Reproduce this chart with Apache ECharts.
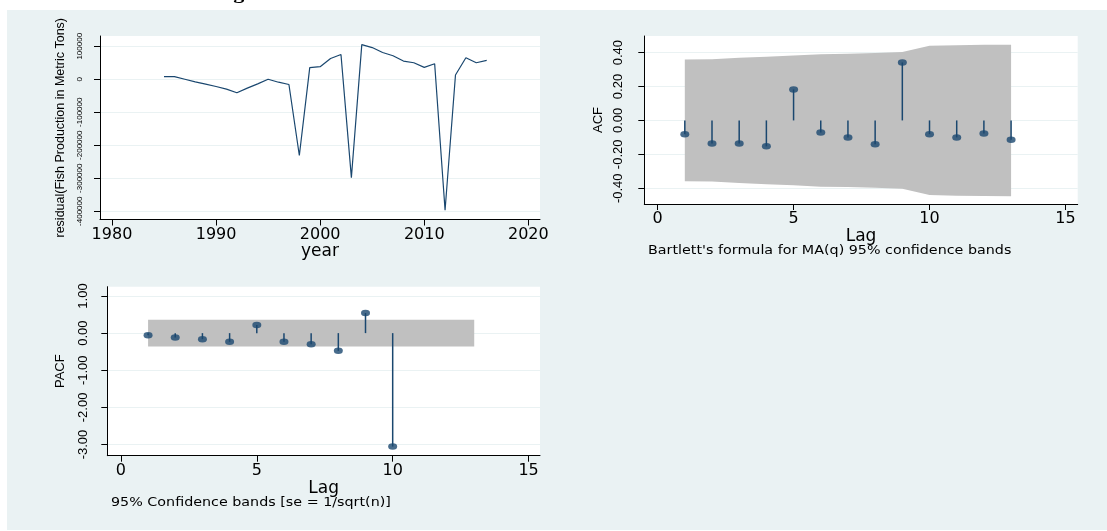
<!DOCTYPE html>
<html><head><meta charset="utf-8">
<script src="https://cdn.jsdelivr.net/npm/echarts@6/dist/echarts.min.js"></script>
<style>html,body{margin:0;padding:0;background:#fff;}#c{width:1107px;height:531px;}</style>
</head><body><div id="c"></div>
<script>
// ---- data ----
const years = [1985,1986,1987,1988,1989,1990,1991,1992,1993,1994,1995,1996,1997,1998,1999,2000,2001,2002,2003,2004,2005,2006,2007,2008,2009,2010,2011,2012,2013,2014,2015,2016];
const residuals = [8000,8000,0,-8000,-15000,-22000,-30000,-41000,-27000,-14000,0,-9000,-16000,-231000,35000,38000,63000,75000,-298000,105000,96000,81000,71000,55000,50000,36000,47000,-397000,13000,65000,50000,57000];
const yearTicks = [1980,1990,2000,2010,2020];
const residTicks = [-400000,-300000,-200000,-100000,0,100000];

const acfLags = [1,2,3,4,5,6,7,8,9,10,11,12,13];
const acfValues = [-0.081,-0.136,-0.136,-0.153,0.183,-0.071,-0.100,-0.140,0.342,-0.081,-0.100,-0.077,-0.114];
const acfBand = [0.359,0.361,0.369,0.376,0.383,0.391,0.393,0.397,0.403,0.440,0.444,0.446,0.447];
const acfTicks = [-0.4,-0.2,0,0.2,0.4];

const pacfLags = [1,2,3,4,5,6,7,8,9,10];
const pacfValues = [-0.054,-0.117,-0.162,-0.234,0.216,-0.234,-0.297,-0.477,0.541,-3.054];
const pacfBandLags = [1,13];
const pacfBand = [0.36,0.36];
const pacfTicks = [-3,-2,-1,0,1];
const lagTicks = [0,5,10,15];

const NAVY = '#1a476f';
const BAND = '#c0c0c0';

function xAx(gi, min, max, ticks, name, gap) {
  return {type:'value', gridIndex:gi, min, max, name, nameLocation:'middle', nameGap:gap,
    nameTextStyle:{fontFamily:'DejaVu Sans', fontSize:17, color:'#000'},
    axisLine:{show:true, onZero:false, lineStyle:{color:'#000', width:1}},
    axisTick:{show:true, length:6, customValues:ticks, lineStyle:{color:'#000', width:1}},
    axisLabel:{customValues:ticks, formatter:v=>String(v), fontFamily:'DejaVu Sans', fontSize:16, color:'#000', margin:7},
    splitLine:{show:false}};
}
function yAx(gi, min, max, ticks, name, gap, fmt, lsize, margin, nsize) {
  return {type:'value', gridIndex:gi, min, max, name, nameLocation:'middle', nameGap:gap,
    nameTextStyle:{fontFamily:'Liberation Sans', fontSize:nsize, color:'#000'},
    axisLine:{show:true, onZero:false, lineStyle:{color:'#000', width:1}},
    axisTick:{show:true, length:6, customValues:ticks, lineStyle:{color:'#000', width:1}},
    axisLabel:{customValues:ticks, rotate:90, formatter:fmt, fontFamily:'Liberation Sans', fontSize:lsize, color:'#000', margin},
    splitLine:{show:true, lineStyle:{color:'#eaf2f3', width:1}}};
}
function stems(xi, lags, vals) {
  return {type:'custom', xAxisIndex:xi, yAxisIndex:xi, silent:true, z:3,
    data: lags.map((l,i)=>[l, vals[i]]), encode:{x:0,y:1},
    renderItem:(params, api)=>{
      const a = api.coord([api.value(0), 0]);
      const b = api.coord([api.value(0), api.value(1)]);
      return {type:'line', shape:{x1:a[0],y1:a[1],x2:b[0],y2:b[1]}, style:{stroke:NAVY, lineWidth:1.5}};
    }};
}
function dots(xi, lags, vals) {
  return {type:'scatter', xAxisIndex:xi, yAxisIndex:xi, silent:true, z:4,
    symbol:'circle', symbolSize:[9,6.5], itemStyle:{color:NAVY},
    data: lags.map((l,i)=>[l, vals[i]])};
}
function band(xi, lags, vals) {
  return {type:'custom', xAxisIndex:xi, yAxisIndex:xi, silent:true, z:2,
    data: lags.map((l,i)=>[l, vals[i]]), encode:{x:0,y:1},
    renderItem:(params, api)=>{
      if (params.dataIndex !== 0) return;
      const up = lags.map((l,i)=>api.coord([l, vals[i]]));
      const lo = lags.map((l,i)=>api.coord([l, -vals[i]])).reverse();
      return {type:'polygon', shape:{points: up.concat(lo)}, style:{fill:BAND}};
    }};
}

const chart = echarts.init(document.getElementById('c'), null, {renderer:'canvas'});
chart.setOption({
  animation:false,
  backgroundColor:'#eaf2f3',
  grid:[
    {left:100, top:36, width:440, height:183.5, show:true, backgroundColor:'#fff', borderWidth:0},
    {left:644.3, top:36, width:433.4, height:168, show:true, backgroundColor:'#fff', borderWidth:0},
    {left:107.3, top:286.7, width:432.7, height:169, show:true, backgroundColor:'#fff', borderWidth:0}
  ],
  xAxis:[
    xAx(0, 1978.85, 2021.12, yearTicks, 'year', 16),
    xAx(1, -0.49, 15.45, lagTicks, 'Lag', 17),
    xAx(2, -0.5, 15.42, lagTicks, 'Lag', 17)
  ],
  yAxis:[
    yAx(0, -425000, 131000, residTicks, 'residual(Fish Production in Metric Tons)', 33, v=>String(v), 8, 16, 12.5),
    yAx(1, -0.493, 0.498, acfTicks, 'ACF', 39, v=>v.toFixed(2), 13, 19, 13),
    yAx(2, -3.3, 1.25, pacfTicks, 'PACF', 40, v=>v.toFixed(2), 13, 17, 13)
  ],
  series:[
    {type:'line', xAxisIndex:0, yAxisIndex:0, silent:true, symbol:'none', z:3,
     lineStyle:{color:NAVY, width:1.2},
     data: years.map((y,i)=>[y, residuals[i]])},
    band(1, acfLags, acfBand),
    stems(1, acfLags, acfValues),
    dots(1, acfLags, acfValues),
    band(2, pacfBandLags, pacfBand),
    stems(2, pacfLags, pacfValues),
    dots(2, pacfLags, pacfValues)
  ],
  graphic:[
    {type:'rect', silent:true, z:100, shape:{x:0,y:0,width:1107,height:10}, style:{fill:'#fff'}},
    {type:'rect', silent:true, z:100, shape:{x:0,y:0,width:7,height:531}, style:{fill:'#fff'}},
    {type:'rect', silent:true, z:100, shape:{x:0,y:530,width:1107,height:1}, style:{fill:'#fff'}},
    {type:'text', silent:true, z:101, x:581, y:3.5, scaleX:1.3, style:{text:'Figure 4: Residual Plot of the Model for Fish Production with ACF and PACF', fontFamily:'Liberation Serif', fontWeight:'bold', fontSize:17, fill:'#000', align:'center', verticalAlign:'bottom'}},
    {type:'text', silent:true, z:101, x:648, y:251, scaleX:1.1, style:{text:"Bartlett's formula for MA(q) 95% confidence bands", fontFamily:'DejaVu Sans', fontSize:13, fill:'#000', align:'left', verticalAlign:'middle'}},
    {type:'text', silent:true, z:101, x:111, y:502.5, scaleX:1.1, style:{text:'95% Confidence bands [se = 1/sqrt(n)]', fontFamily:'DejaVu Sans', fontSize:13, fill:'#000', align:'left', verticalAlign:'middle'}}
  ]
});
</script></body></html>
